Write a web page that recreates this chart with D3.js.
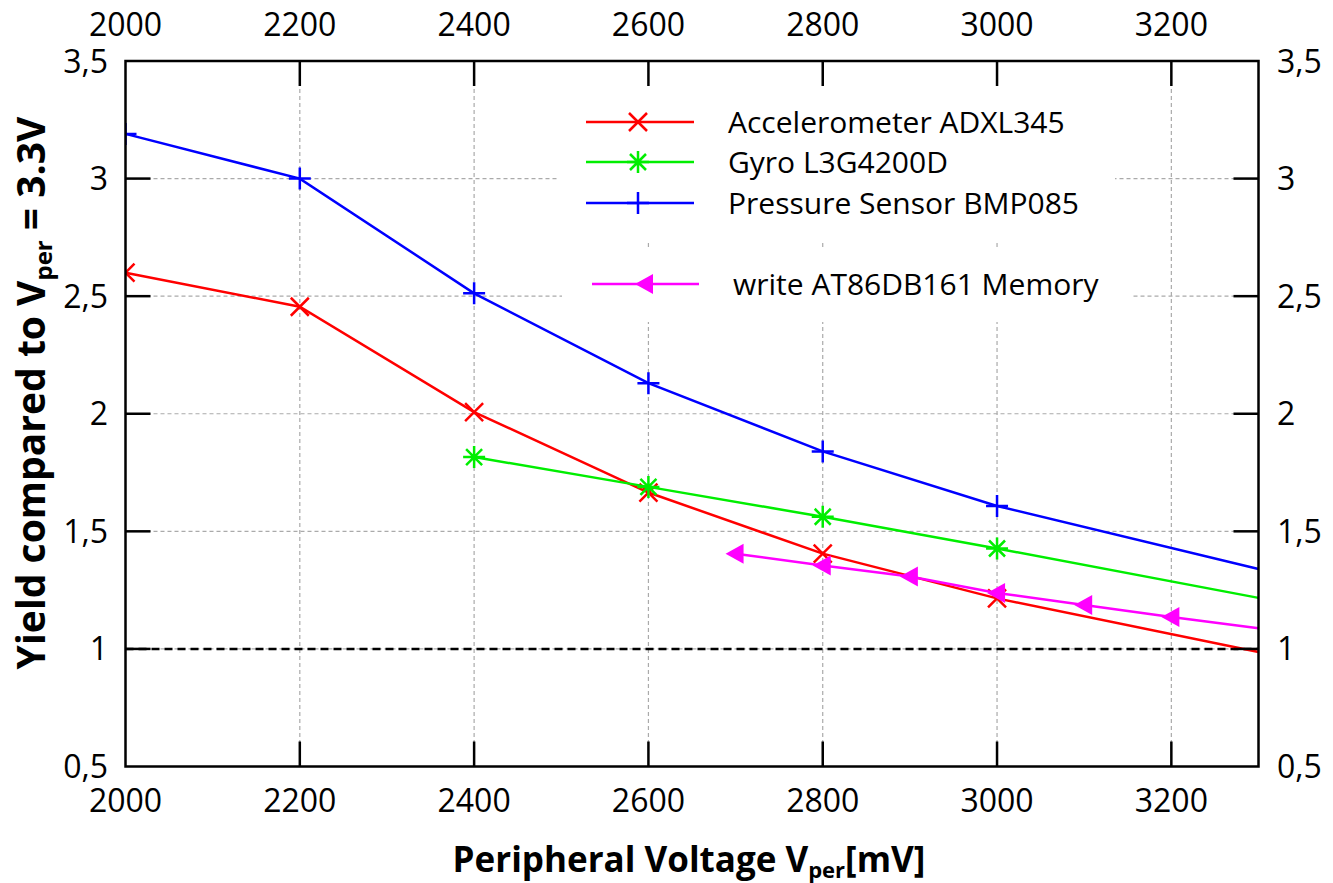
<!DOCTYPE html>
<html>
<head>
<meta charset="utf-8">
<script src="https://cdn.jsdelivr.net/npm/d3@7"></script>
<style>
  html, body { margin: 0; padding: 0; background: #fff; }
  svg { display: block; font-family: "Open Sans", "Noto Sans", sans-serif; }
</style>
</head>
<body>
<svg id="chart" width="1333" height="883"></svg>
<script>
// Peripheral voltage (mV) and yield relative to V_per = 3.3 V
const accelX = [2000, 2200, 2400, 2600, 2800, 3000, 3300];
const accelY = [2.60, 2.455, 2.007, 1.665, 1.405, 1.215, 0.987];

const gyroX = [2400, 2600, 2800, 3000, 3300];
const gyroY = [1.816, 1.689, 1.562, 1.427, 1.217];

const pressX = [2000, 2200, 2400, 2600, 2800, 3000, 3300];
const pressY = [3.19, 3.0, 2.512, 2.13, 1.84, 1.608, 1.34];

const memX = [2700, 2800, 2900, 3000, 3100, 3200, 3300];
const memY = [1.405, 1.355, 1.308, 1.238, 1.187, 1.136, 1.088];

const xTicks = [2000, 2200, 2400, 2600, 2800, 3000, 3200];
const yTicks = [0.5, 1, 1.5, 2, 2.5, 3, 3.5];
const yTickLabels = ["0,5", "1", "1,5", "2", "2,5", "3", "3,5"];
const referenceYield = 1;

const seriesNames = ["Accelerometer ADXL345", "Gyro L3G4200D", "Pressure Sensor BMP085", "write AT86DB161 Memory"];

const svg = d3.select("#chart");
const plotLeft = 125.5, plotRight = 1258.5, plotTop = 61, plotBottom = 766.5;

const x = d3.scaleLinear().domain([2000, 3300]).range([plotLeft, plotRight]);
const y = d3.scaleLinear().domain([0.5, 3.5]).range([plotBottom, plotTop]);

// clip region for the plotted data
svg.append("defs").append("clipPath").attr("id", "plotClip")
  .append("rect").attr("x", plotLeft).attr("y", plotTop)
  .attr("width", plotRight - plotLeft).attr("height", plotBottom - plotTop);

// dashed grid
const grid = svg.append("g").attr("stroke", "#aaaaaa").attr("stroke-width", 1.2)
  .attr("stroke-dasharray", "4,3").attr("fill", "none");
xTicks.filter(v => v > 2000).forEach(v => {
  grid.append("line").attr("x1", x(v)).attr("x2", x(v)).attr("y1", plotTop).attr("y2", plotBottom);
});
yTicks.filter(v => v > 0.5 && v < 3.5).forEach(v => {
  grid.append("line").attr("x1", plotLeft).attr("x2", plotRight).attr("y1", y(v)).attr("y2", y(v));
});

// legend backgrounds hide the grid behind the key
svg.append("rect").attr("x", 557).attr("y", 86).attr("width", 558).attr("height", 154).attr("fill", "#fff");
svg.append("rect").attr("x", 562).attr("y", 249).attr("width", 571).attr("height", 73).attr("fill", "#fff");

// reference line at yield = 1
svg.append("line").attr("x1", plotLeft).attr("x2", plotRight)
  .attr("y1", y(referenceYield)).attr("y2", y(referenceYield))
  .attr("stroke", "#000").attr("stroke-width", 2.5).attr("stroke-dasharray", "8,5");

// marker shapes
function drawMarker(g, kind, cx, cy, color) {
  if (kind === "x") {
    const s = 9;
    g.append("path").attr("d", `M${cx - s},${cy - s}L${cx + s},${cy + s}M${cx - s},${cy + s}L${cx + s},${cy - s}`)
      .attr("stroke", color).attr("stroke-width", 2.5).attr("fill", "none");
  } else if (kind === "star") {
    const s = 8;
    g.append("path").attr("d", `M${cx - s},${cy - s}L${cx + s},${cy + s}M${cx - s},${cy + s}L${cx + s},${cy - s}M${cx},${cy - s - 3}L${cx},${cy + s + 3}M${cx - s - 3},${cy}L${cx + s + 3},${cy}`)
      .attr("stroke", color).attr("stroke-width", 2.5).attr("fill", "none");
  } else if (kind === "plus") {
    const s = 11;
    g.append("path").attr("d", `M${cx},${cy - s}L${cx},${cy + s}M${cx - s},${cy}L${cx + s},${cy}`)
      .attr("stroke", color).attr("stroke-width", 2.5).attr("fill", "none");
  } else if (kind === "tri") {
    g.append("path").attr("d", `M${cx - 10},${cy}L${cx + 8},${cy - 10}L${cx + 8},${cy + 10}Z`)
      .attr("fill", color).attr("stroke", "none");
  }
}

const series = [
  { xs: accelX, ys: accelY, color: "#ff0000", marker: "x" },
  { xs: gyroX, ys: gyroY, color: "#00ee00", marker: "star" },
  { xs: pressX, ys: pressY, color: "#0000ff", marker: "plus" },
  { xs: memX, ys: memY, color: "#ff00ff", marker: "tri" }
];

const line = d3.line().x(d => x(d[0])).y(d => y(d[1]));
const plot = svg.append("g").attr("clip-path", "url(#plotClip)");
series.forEach(s => {
  const pts = s.xs.map((v, i) => [v, s.ys[i]]);
  plot.append("path").datum(pts).attr("d", line)
    .attr("fill", "none").attr("stroke", s.color).attr("stroke-width", 2.5);
  // points sitting on the right frame edge are left unmarked
  pts.filter(p => p[0] < 3300).forEach(p => drawMarker(plot, s.marker, x(p[0]), y(p[1]), s.color));
});

// frame
svg.append("rect").attr("x", plotLeft).attr("y", plotTop).attr("width", plotRight - plotLeft).attr("height", plotBottom - plotTop)
  .attr("fill", "none").attr("stroke", "#000").attr("stroke-width", 2.5);

// inward ticks on all four sides
const tickLen = 25;
const ticks = svg.append("g").attr("stroke", "#000").attr("stroke-width", 2.5);
xTicks.filter(v => v > 2000).forEach(v => {
  ticks.append("line").attr("x1", x(v)).attr("x2", x(v)).attr("y1", plotBottom).attr("y2", plotBottom - tickLen);
  ticks.append("line").attr("x1", x(v)).attr("x2", x(v)).attr("y1", plotTop).attr("y2", plotTop + tickLen);
});
yTicks.filter(v => v > 0.5 && v < 3.5).forEach(v => {
  ticks.append("line").attr("x1", plotLeft).attr("x2", plotLeft + tickLen).attr("y1", y(v)).attr("y2", y(v));
  ticks.append("line").attr("x1", plotRight).attr("x2", plotRight - tickLen).attr("y1", y(v)).attr("y2", y(v));
});

// tick labels
const lab = svg.append("g").attr("font-size", 32).attr("fill", "#000");
xTicks.forEach(v => {
  lab.append("text").attr("x", x(v)).attr("y", 812).attr("text-anchor", "middle").text(v);
  lab.append("text").attr("x", x(v)).attr("y", 36).attr("text-anchor", "middle").text(v);
});
yTicks.forEach((v, i) => {
  lab.append("text").attr("x", 108).attr("y", y(v) + 11.5).attr("text-anchor", "end").text(yTickLabels[i]);
  lab.append("text").attr("x", 1277).attr("y", y(v) + 11.5).attr("text-anchor", "start").text(yTickLabels[i]);
});

// axis titles
const xt = svg.append("text").attr("x", 689).attr("y", 872).attr("text-anchor", "middle")
  .attr("font-size", 35).attr("font-weight", "bold");
xt.append("tspan").text("Peripheral Voltage V");
xt.append("tspan").attr("font-size", 22).attr("dy", 6).text("per");
xt.append("tspan").attr("dy", -6).text("[mV]");

const yt = svg.append("text").attr("transform", "translate(45,393) rotate(-90)").attr("text-anchor", "middle")
  .attr("font-size", 39).attr("font-weight", "bold");
yt.append("tspan").text("Yield compared to V");
yt.append("tspan").attr("font-size", 24).attr("dy", 7).text("per");
yt.append("tspan").attr("dy", -7).text(" = 3.3V");

// legend
const legendRows = [
  { y: 122, x1: 586, x2: 694, mx: 638, tx: 728 },
  { y: 162, x1: 586, x2: 694, mx: 638, tx: 728 },
  { y: 203, x1: 586, x2: 694, mx: 638, tx: 728 },
  { y: 284, x1: 592, x2: 699, mx: 645, tx: 733 }
];
const leg = svg.append("g");
series.forEach((s, i) => {
  const r = legendRows[i];
  leg.append("line").attr("x1", r.x1).attr("x2", r.x2).attr("y1", r.y).attr("y2", r.y)
    .attr("stroke", s.color).attr("stroke-width", 2.5);
  drawMarker(leg, s.marker, r.mx, r.y, s.color);
  leg.append("text").attr("x", r.tx).attr("y", r.y + 11).attr("font-size", 30).text(seriesNames[i]);
});
</script>
</body>
</html>
